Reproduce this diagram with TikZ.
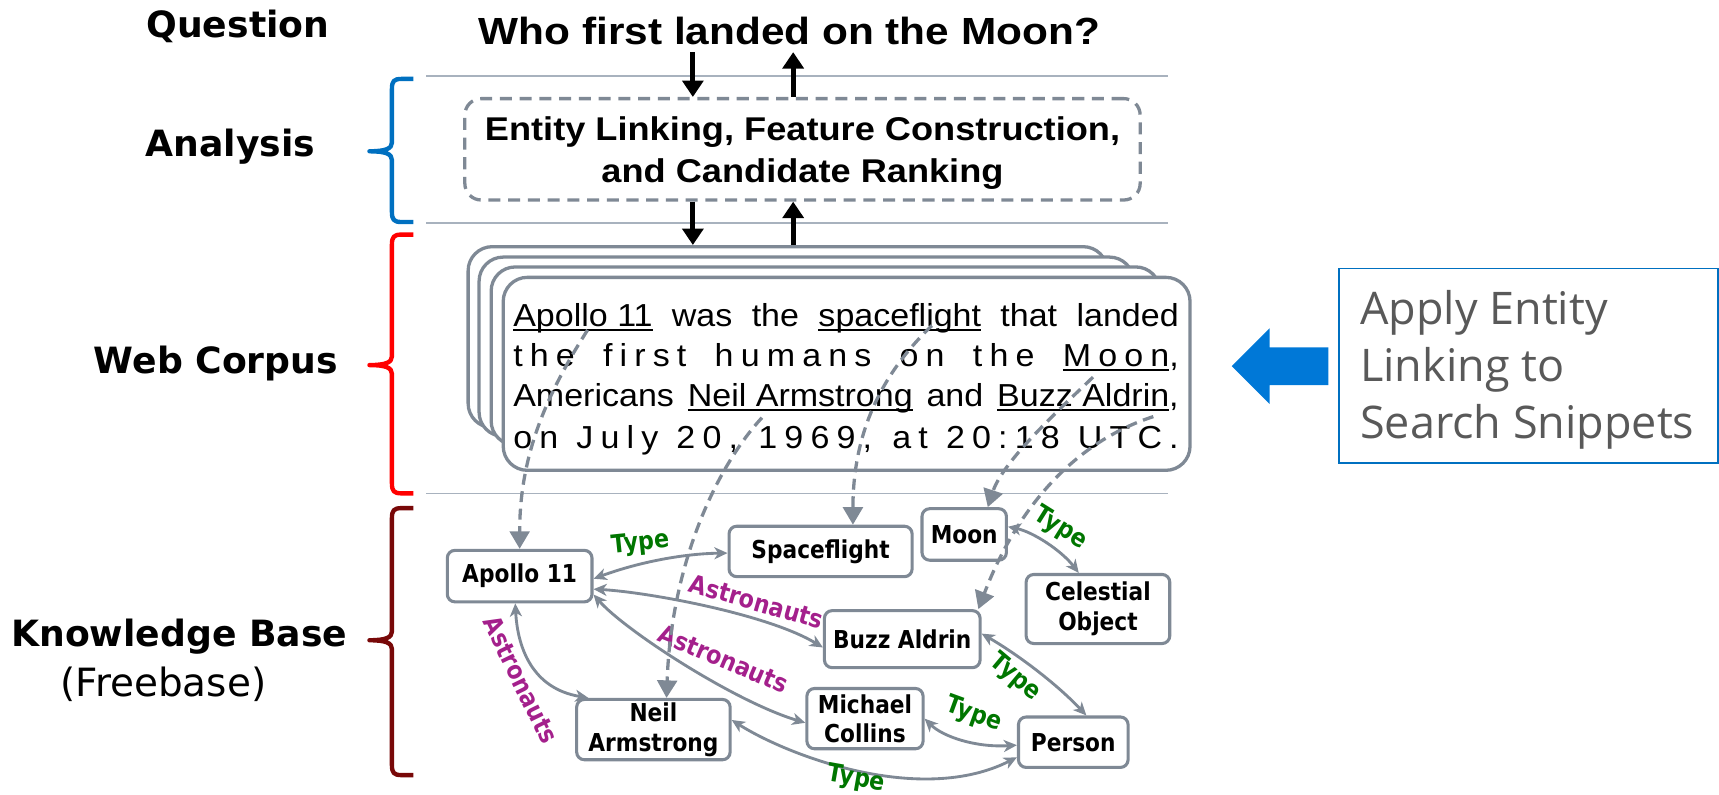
\documentclass[tikz,border=0pt]{standalone}
\usepackage{fontspec}
\setmainfont{Liberation Sans}
\newfontfamily\snipfont[FakeStretch=1.07]{Liberation Sans}
\newfontfamily\qfont[FakeStretch=1.12]{Liberation Sans}
\newfontfamily\afont[FakeStretch=1.10]{Liberation Sans}
\newfontfamily\vfont{DejaVu Sans}
\newfontfamily\kfont[FakeStretch=0.88]{DejaVu Sans}
\newfontfamily\ofont{Open Sans}
\usetikzlibrary{arrows.meta}
\definecolor{edgegray}{RGB}{127,137,149}
\definecolor{linegray}{RGB}{168,178,190}
\definecolor{typegreen}{RGB}{0,118,0}
\definecolor{astropurple}{RGB}{164,32,140}
\definecolor{bblue}{RGB}{0,112,192}
\definecolor{arrowblue}{RGB}{0,120,215}
\definecolor{bred}{RGB}{255,0,0}
\definecolor{bdark}{RGB}{120,8,8}
\definecolor{textgray}{RGB}{89,89,89}
\newlength\lsamt
\setlength\lsamt{6.5pt}
\def\sw#1{\swA#1\relax}
\def\swA#1{#1\swB}
\def\swB#1{\ifx\relax#1\else\kern\lsamt#1\expandafter\swB\fi}
\def\myul#1{\leavevmode\setbox0\hbox{#1}\rlap{\vrule height -1.8pt depth 3.9pt width \wd0}\box0\relax}
\newcommand\mybrace[4]{%
\draw[#1,line width=4pt,line join=round]
 (377,#2) -- (366,#2) .. controls (359.5,#2) and (357.5,#2+2) .. (357.5,#2+9)
 -- (357.5,#3-8) .. controls (357.5,#3-2.5) and (352,#3) .. (337,#3)
 .. controls (352,#3) and (357.5,#3+2.5) .. (357.5,#3+8)
 -- (357.5,#4-9) .. controls (357.5,#4-2) and (359.5,#4) .. (366,#4) -- (377,#4);}
\begin{document}
\begin{tikzpicture}[x=1pt,y=-1pt,
 kb/.style={draw=edgegray,line width=2.8pt,rounded corners=7pt,fill=white,align=center,inner sep=0pt,font=\kfont\bfseries\fontsize{22.5}{27}\selectfont},
 rel/.style={draw=edgegray,line width=2.6pt,{Stealth[length=12pt,width=11pt,inset=3.5pt]}-{Stealth[length=12pt,width=11pt,inset=3.5pt]}},
 typel/.style={text=typegreen,inner sep=0pt,font=\kfont\bfseries\fontsize{23}{26}\selectfont},
 astrol/.style={text=astropurple,inner sep=0pt,font=\kfont\bfseries\fontsize{23}{26}\selectfont},
 link/.style={draw=edgegray,line width=3pt,dash pattern=on 10pt off 6pt,-{Triangle[length=16pt,width=18pt]}},
 bigarrow/.style={draw=black,line width=4.5pt,-{Triangle[length=15pt,width=19pt]}},
 snipbox/.style={draw=edgegray,line width=3pt,rounded corners=22pt,fill=white,inner sep=0pt},
 side/.style={inner sep=0pt,font=\vfont\bfseries\fontsize{33}{40}\selectfont},
 hline/.style={draw=linegray,line width=1.5pt},
 sniptext/.style={inner sep=0pt,anchor=base west,font=\snipfont\fontsize{29}{36}\selectfont},
]
\useasboundingbox (0,0) rectangle (1568,725);

% separators
\draw[hline] (389,69.5) -- (1065,69.5);
\draw[hline] (389,203.5) -- (1065,203.5);
\draw[hline] (389,450) -- (1065,450);

% braces
\mybrace{bblue}{72}{138}{202.5}
\mybrace{bred}{214}{333}{450}
\mybrace{bdark}{463.5}{584}{707}

% side labels
\node[side,anchor=base] (lq) at (217,34) {Question};
\node[side,anchor=base] (la) at (210,143) {Analysis};
\node[side,anchor=base] (lw) at (197,341) {Web Corpus};
\node[side,anchor=base] (lk) at (163.5,590) {Knowledge Base};
\node[inner sep=0pt,anchor=base,font=\vfont\fontsize{35.5}{40}\selectfont] (lf) at (149,635.5) {(Freebase)};

% question
\node[anchor=base,inner xsep=0pt,inner ysep=6pt,font=\qfont\bfseries\fontsize{34.5}{40}\selectfont] (q) at (720,41) {Who first landed on the Moon?};

% analysis box
\node[draw=edgegray,line width=3pt,dash pattern=on 11pt off 7pt,rounded corners=15pt,minimum width=616pt,minimum height=92.5pt,align=center,font=\afont\bfseries\fontsize{30}{38}\selectfont] (ana) at (732,136.2) {\rule{0pt}{28.5pt}Entity Linking, Feature Construction,\\and Candidate Ranking};

% snippet stack
\node[snipbox,minimum width=583pt,minimum height=165pt] (s1) at (718.5,307.5) {};
\node[snipbox,minimum width=597pt,minimum height=163.5pt] (s2) at (735.5,316.25) {};
\node[snipbox,minimum width=610pt,minimum height=162.5pt] (s3) at (753,324.75) {};
\node[snipbox,minimum width=626.5pt,minimum height=176pt] (s4) at (772.25,341) {};

\node[sniptext] (l1) at (468,298) {\makebox[607pt][s]{\myul{Apollo 11} was the \myul{spaceflight} that landed}};
\node[sniptext] (l2) at (468,334.5) {\makebox[607pt][s]{\sw{the} \sw{first} \sw{humans} \sw{on} \sw{the} \myul{\sw{Moon}},}};
\node[sniptext] (l3) at (468,371) {\makebox[607pt][s]{Americans \myul{Neil Armstrong} and \myul{Buzz Aldrin},}};
\node[sniptext] (l4) at (468,409) {\makebox[607pt][s]{\sw{on} \sw{July} \sw{20,} \sw{1969,} \sw{at} \sw{20:18} \sw{UTC.}}};

% black arrows
\coordinate (axd) at (632,0);
\coordinate (axu) at (723.5,0);
\draw[bigarrow] (axd |- q.south) -- (axd |- ana.north);
\draw[bigarrow] (axu |- ana.north) -- (axu |- q.south);
\draw[bigarrow] (axd |- ana.south) -- (axd |- s1.north);
\draw[bigarrow] (axu |- s1.north) -- (axu |- ana.south);

% knowledge base nodes
\node[kb,minimum width=132pt,minimum height=47pt] (apollo) at (474,525.5) {Apollo 11};
\node[kb,minimum width=167pt,minimum height=46pt] (space) at (748.5,503) {Spaceflight};
\node[kb,minimum width=77pt,minimum height=47pt] (moon) at (879.5,487.5) {Moon};
\node[kb,minimum width=131pt,minimum height=63pt] (celes) at (1001.5,555.5) {Celestial\\Object};
\node[kb,minimum width=142pt,minimum height=52pt] (buzz) at (823,583) {Buzz Aldrin};
\node[kb,minimum width=106pt,minimum height=55pt] (mike) at (789,655.5) {Michael\\Collins};
\node[kb,minimum width=140pt,minimum height=55pt] (neil) at (596,665.5) {Neil\\Armstrong};
\node[kb,minimum width=100pt,minimum height=46pt] (person) at (979,677) {Person};

% relations
\draw[rel] (apollo.-2) .. controls (585,512) and (625,505) .. (space.181);
\draw[rel] (apollo.-10) .. controls (590,540) and (700,560) .. (buzz.186);
\draw[rel] (apollo.-14) .. controls (570,575) and (670,640) .. (mike.184);
\draw[rel] ([xshift=-4pt]apollo.south) .. controls (472,590) and (485,628) .. (neil.154);
\draw[rel] (moon.10) .. controls (942,485) and (968,502) .. (celes.118);
\draw[rel] (buzz.4) .. controls (930,598) and (965,625) .. (person.64);
\draw[rel] (mike.east) .. controls (860,672) and (890,682) .. (person.183);
\draw[rel] (neil.7) .. controls (720,690) and (840,735) .. (person.195);

\node[typel,rotate=6] (ty1) at (584,496) {Type};
\node[astrol,rotate=-16] (as1) at (690,549) {Astronauts};
\node[astrol,rotate=-23] (as2) at (660,601) {Astronauts};
\node[astrol,rotate=-64] (as3) at (475,620) {Astronauts};
\node[typel,rotate=-32] (ty2) at (967,482) {Type};
\node[typel,rotate=-40] (ty3) at (926,618) {Type};
\node[typel,rotate=-20] (ty4) at (888,652) {Type};
\node[typel,rotate=-10] (ty5) at (781,711) {Type};

% entity links (dashed)
\coordinate (tA) at (536,301);
\coordinate (tS) at (850,297);
\coordinate (tN) at (695,381);
\coordinate (tM) at (997,344);
\coordinate (tB) at (1052,380);
\draw[link] (tA) .. controls (495,365) and (474,420) .. (apollo.north);
\draw[link] (tS) .. controls (800,345) and (778,400) .. ([xshift=29.5pt]space.north);
\draw[link] (tN) .. controls (650,430) and (612,520) .. ([xshift=12pt]neil.north);
\draw[link] (tM) .. controls (970,370) and (915,420) .. ([xshift=21.5pt]moon.north);
\draw[link] (tB) .. controls (975,405) and (925,470) .. ([xshift=-3pt]buzz.north east);

% right side
\fill[arrowblue] (1123.5,334) -- (1158,299.5) -- (1158,316.8) -- (1211.6,316.8) -- (1211.6,351.2) -- (1158,351.2) -- (1158,368.5) -- cycle;
\draw[bblue,line width=1.6pt] (1221.5,244.8) rectangle (1567.2,422.5);
\node[anchor=base west,inner sep=0pt,align=left,text=textgray,font=\ofont\fontsize{41}{51.7}\selectfont] (apply) at (1240.5,399.8) {Apply Entity\\Linking to\\Search Snippets};
\end{tikzpicture}
\end{document}
